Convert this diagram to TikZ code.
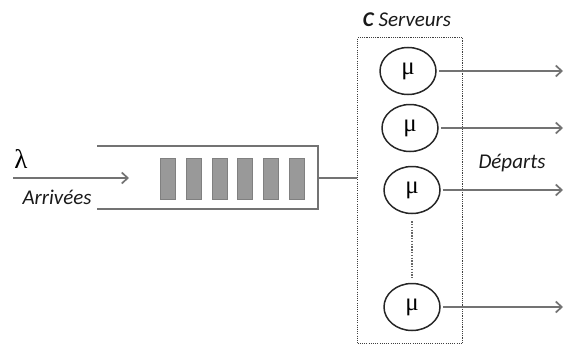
\documentclass[tikz,border=0pt]{standalone}
\usepackage{fontspec}
\setmainfont{Carlito}
\newfontfamily\grk{Liberation Serif}
\usetikzlibrary{arrows.meta,shapes.geometric,calc}
\begin{document}
\begin{tikzpicture}[x=1pt,y=-1pt,
  gline/.style={draw=black!55, line width=1.7pt},
  garrow/.style={gline,-{Straight Barb[length=6pt,width=11pt,line width=1.7pt]}},
  server/.style={ellipse, draw=black!85, line width=1.5pt, minimum width=56pt, minimum height=47pt, inner sep=0pt, font=\grk\fontsize{25}{28}\selectfont},
  job/.style={rectangle, draw=black!50, fill=black!40, line width=0.8pt, minimum width=15pt, minimum height=41pt, inner sep=0pt},
  lbl/.style={font=\itshape\fontsize{21}{24}\selectfont, inner sep=0pt, text=black!90},
  grkl/.style={font=\grk\fontsize{27}{30}\selectfont, inner sep=0pt}]
\useasboundingbox (0,0) rectangle (564,345);
% queue
\coordinate (qtl) at (97,146);
\coordinate (qtr) at (318,146);
\coordinate (qbr) at (318,209);
\coordinate (qbl) at (97,209);
\coordinate (qout) at (318,178);
\draw[gline] (qtl) -- (qtr) -- (qbr) -- (qbl);
\foreach \i/\x in {1/168,2/193.7,3/219.4,4/245.1,5/270.8,6/296.5}
  \node[job] (j\i) at (\x,178.5) {};
% input arrow
\coordinate (ain) at (13,178);
\coordinate (aend) at (129,178);
\draw[garrow] (ain) -- (aend);
\node[grkl] (lam) at (21,159) {λ};
\node[lbl] (arr) at (57,197) {Arrivées};
% server box
\node[draw=black!75, line width=1.1pt, dash pattern=on 1.1pt off 1.1pt, minimum width=105pt, minimum height=306pt, anchor=north west, inner sep=0pt] (box) at (357,37) {};
\draw[gline] (qout) -- (qout -| box.west);
\node[lbl] (cs) at (407,20) {\textbf{C} Serveurs};
% servers
\node[server] (s1) at (408,71) {μ};
\node[server] (s2) at (410,128) {μ};
\node[server] (s3) at (412,190) {μ};
\node[server] (s4) at (412,307) {μ};
\draw[black!60, line width=1.4pt, dash pattern=on 1.4pt off 1.4pt] ($(s3.south)+(0,7)$) -- ($(s4.north)+(0,-5)$);
% departures
\coordinate (d1) at (563,71);
\coordinate (d2) at (563,128);
\coordinate (d3) at (563,190);
\coordinate (d4) at (563,307);
\draw[garrow] ($(s1.east)+(2,0)$) -- (d1);
\draw[garrow] ($(s2.east)+(2,0)$) -- (d2);
\draw[garrow] ($(s3.east)+(2,0)$) -- (d3);
\draw[garrow] ($(s4.east)+(2,0)$) -- (d4);
\node[lbl] (dep) at (512,163) {Départs};
\end{tikzpicture}
\end{document}
